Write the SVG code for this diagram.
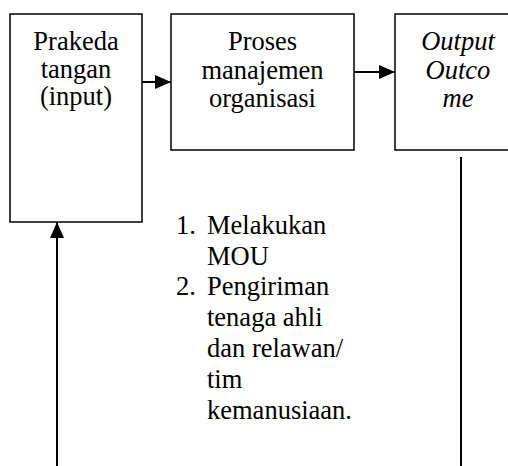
<svg xmlns="http://www.w3.org/2000/svg" width="508" height="466" viewBox="0 0 508 466" font-family="Liberation Serif">
<defs>
<marker id="ah" viewBox="0 0 16 14" refX="16" refY="7" markerWidth="16" markerHeight="14" markerUnits="userSpaceOnUse" orient="auto">
<path d="M0,0 L16,7 L0,14 Z" fill="#000"/>
</marker>
</defs>
<rect width="508" height="466" fill="#fff"/>
<g id="input">
<rect x="10" y="14" width="132" height="208" fill="#fff" stroke="#000" stroke-width="1.5"/>
<text x="76" y="50" text-anchor="middle" font-family="Times New Roman" font-size="26.5">Prakeda</text>
<text x="76" y="78" text-anchor="middle" font-family="Times New Roman" font-size="26.5">tangan</text>
<text x="76" y="105" text-anchor="middle" font-family="Times New Roman" font-size="26.5">(input)</text>
</g>
<g id="proses">
<rect x="171" y="14" width="183" height="136" fill="#fff" stroke="#000" stroke-width="1.5"/>
<text x="262.5" y="50" text-anchor="middle" font-family="Times New Roman" font-size="26.5">Proses</text>
<text x="262.5" y="79" text-anchor="middle" font-family="Times New Roman" font-size="26.5">manajemen</text>
<text x="262.5" y="107" text-anchor="middle" font-family="Times New Roman" font-size="26.5">organisasi</text>
</g>
<g id="output">
<rect x="395" y="14" width="130" height="136" fill="#fff" stroke="#000" stroke-width="1.5"/>
<text x="458" y="50" text-anchor="middle" font-family="Times New Roman" font-size="26.5" font-style="italic">Output</text>
<text x="458" y="79" text-anchor="middle" font-family="Times New Roman" font-size="26.5" font-style="italic">Outco</text>
<text x="458" y="107" text-anchor="middle" font-family="Times New Roman" font-size="26.5" font-style="italic">me</text>
</g>
<g id="list">
<text x="176" y="234" font-family="Times New Roman" font-size="26.5">1.</text>
<text x="207" y="234" font-family="Times New Roman" font-size="26.5">Melakukan</text>
<text x="207" y="265" font-family="Times New Roman" font-size="26.5">MOU</text>
<text x="176" y="295" font-family="Times New Roman" font-size="26.5">2.</text>
<text x="207" y="295" font-family="Times New Roman" font-size="26.5">Pengiriman</text>
<text x="207" y="326" font-family="Times New Roman" font-size="26.5">tenaga ahli</text>
<text x="207" y="357" font-family="Times New Roman" font-size="26.5">dan relawan/</text>
<text x="207" y="388" font-family="Times New Roman" font-size="26.5">tim</text>
<text x="207" y="419" font-family="Times New Roman" font-size="26.5">kemanusiaan.</text>
</g>
<g id="connectors" stroke="#000" stroke-width="2" fill="none">
<line x1="142" y1="82" x2="171" y2="82" marker-end="url(#ah)"/>
<line x1="354" y1="72" x2="395" y2="72" marker-end="url(#ah)"/>
<line x1="57" y1="466" x2="57" y2="222" marker-end="url(#ah)"/>
<line x1="461" y1="157" x2="461" y2="466"/>
</g>
</svg>
